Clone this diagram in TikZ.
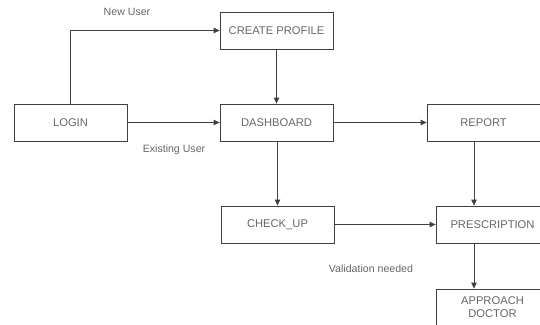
\documentclass[tikz,border=0pt]{standalone}
\usepackage{fontspec}
\setmainfont{Liberation Sans}
\usetikzlibrary{arrows.meta}

\tikzset{flow_box/.style={draw=black!75, line width=0.8pt, minimum width=113pt, minimum height=37pt, inner sep=0pt, align=center, text=black!60, font=\fontsize{11.2}{13}\selectfont}}
\tikzset{flow_edge/.style={draw=black!75, line width=0.8pt, -{Triangle[length=6pt,width=5.5pt]}}}
\tikzset{edge_text/.style={text=black!60, font=\fontsize{10.6}{12}\selectfont}}

\begin{document}
\begin{tikzpicture}[x=1pt,y=-1pt]
    \useasboundingbox (0,0) rectangle (540,324);
    \clip (0,0) rectangle (540,324);
    \coordinate (col) at (474,0);
    \node[flow_box] (login) at (70.5,122.5) {LOGIN};
    \node[flow_box] (create) at (276.5,30.5) {CREATE PROFILE};
    \node[flow_box] (dash) at (276.5,122.5) {DASHBOARD};
    \node[flow_box] (report) at (483.5,122.5) {REPORT};
    \node[flow_box] (checkup) at (277.5,224.5) {CHECK\_UP};
    \node[flow_box] (presc) at (492.5,224.5) {PRESCRIPTION};
    \node[flow_box] (doctor) at (492.5,307.5) {APPROACH\\DOCTOR};
    \draw[flow_edge] (login.north) |- (create.west);
    \draw[flow_edge] (login) -- (dash);
    \draw[flow_edge] (create) -- (dash);
    \draw[flow_edge] (dash) -- (report);
    \draw[flow_edge] (dash.south -| checkup.north) -- (checkup.north);
    \draw[flow_edge] (checkup) -- (checkup -| presc.west);
    \draw[flow_edge] (report.south -| col) -- (presc.north -| col);
    \draw[flow_edge] (presc.south -| col) -- (doctor.north -| col);
    \node[edge_text] (newuser) at (127,12) {New User};
    \node[edge_text] (existing) at (174,150) {Existing User};
    \node[edge_text] (valid) at (371,269) {Validation needed};
\end{tikzpicture}
\end{document}
